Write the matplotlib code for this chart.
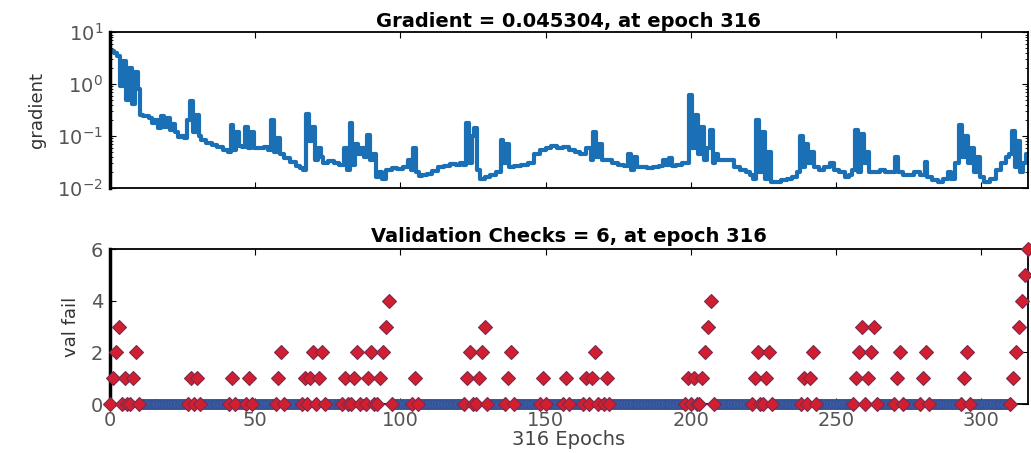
import numpy as np
import matplotlib
matplotlib.use("Agg")
import matplotlib.pyplot as plt
from matplotlib.ticker import LogLocator, NullFormatter

plt.rcParams['font.family'] = ['DejaVu Sans']

# gradient (epoch, value)
grad_epochs = [0, 1, 2, 3, 4, 5, 6, 7, 8, 9, 10, 11, 12, 13, 14, 15, 16, 17, 18, 19,
               20, 21, 22, 23, 24, 25, 26, 27, 28, 29, 30, 31, 32, 34, 36, 38, 40, 41, 42, 43,
               44, 45, 46, 47, 48, 49, 50, 52, 54, 55, 56, 57, 58, 59, 61, 63, 65, 66, 67, 68,
               69, 70, 71, 72, 73, 74, 76, 78, 80, 81, 82, 83, 84, 85, 86, 87, 88, 89, 90, 91,
               92, 93, 94, 96, 98, 100, 102, 103, 104, 105, 106, 107, 108, 110, 112, 114, 116, 118, 120, 121,
               122, 123, 124, 125, 126, 127, 128, 130, 132, 134, 135, 136, 137, 138, 140, 143, 145, 147, 149, 151,
               153, 155, 157, 159, 161, 163, 165, 166, 167, 168, 169, 170, 172, 174, 176, 178, 179, 180, 181, 182,
               184, 186, 188, 190, 191, 192, 193, 194, 196, 198, 199, 200, 201, 202, 203, 204, 205, 206, 207, 208,
               209, 210, 212, 214, 216, 218, 220, 221, 222, 223, 224, 225, 226, 227, 228, 230, 232, 234, 236, 237,
               238, 239, 240, 241, 242, 243, 245, 247, 249, 250, 252, 254, 255, 256, 257, 258, 259, 260, 261, 262,
               264, 266, 268, 270, 271, 272, 274, 276, 278, 280, 281, 282, 284, 286, 288, 289, 290, 292, 293, 294,
               295, 296, 297, 298, 299, 300, 302, 304, 306, 308, 309, 310, 311, 312, 313, 314, 315, 316]
grad_values = [4.3, 4.3, 4.0, 3.4, 0.9, 2.8, 0.5, 2.0, 0.42, 1.7, 0.8, 0.25, 0.24, 0.24, 0.22, 0.18, 0.2, 0.14, 0.24, 0.15,
               0.22, 0.13, 0.17, 0.12, 0.095, 0.1, 0.09, 0.2, 0.48, 0.12, 0.25, 0.1, 0.085, 0.075, 0.068, 0.062, 0.055, 0.05, 0.16, 0.055,
               0.12, 0.065, 0.062, 0.15, 0.06, 0.12, 0.06, 0.058, 0.062, 0.055, 0.2, 0.05, 0.09, 0.045, 0.038, 0.032, 0.026, 0.024, 0.022, 0.27,
               0.08, 0.15, 0.035, 0.06, 0.04, 0.03, 0.033, 0.03, 0.028, 0.06, 0.022, 0.18, 0.028, 0.07, 0.045, 0.06, 0.04, 0.105, 0.035, 0.045,
               0.016, 0.02, 0.015, 0.022, 0.024, 0.023, 0.025, 0.035, 0.022, 0.06, 0.02, 0.017, 0.018, 0.019, 0.021, 0.025, 0.027, 0.029, 0.028, 0.03,
               0.028, 0.18, 0.03, 0.1, 0.14, 0.022, 0.015, 0.016, 0.018, 0.02, 0.085, 0.03, 0.07, 0.025, 0.026, 0.028, 0.03, 0.045, 0.055, 0.06,
               0.065, 0.06, 0.062, 0.055, 0.05, 0.045, 0.06, 0.035, 0.12, 0.04, 0.07, 0.035, 0.034, 0.03, 0.028, 0.026, 0.045, 0.022, 0.04, 0.025,
               0.025, 0.024, 0.025, 0.026, 0.034, 0.028, 0.038, 0.026, 0.028, 0.03, 0.03, 0.62, 0.06, 0.25, 0.045, 0.15, 0.035, 0.06, 0.13, 0.03,
               0.045, 0.035, 0.035, 0.034, 0.025, 0.022, 0.02, 0.018, 0.015, 0.2, 0.02, 0.12, 0.015, 0.05, 0.013, 0.013, 0.014, 0.015, 0.016, 0.02,
               0.1, 0.025, 0.07, 0.03, 0.05, 0.025, 0.022, 0.025, 0.03, 0.022, 0.02, 0.016, 0.018, 0.022, 0.13, 0.02, 0.11, 0.03, 0.05, 0.02,
               0.02, 0.022, 0.02, 0.02, 0.04, 0.02, 0.018, 0.018, 0.02, 0.018, 0.032, 0.016, 0.014, 0.013, 0.015, 0.02, 0.015, 0.03, 0.165, 0.04,
               0.1, 0.03, 0.06, 0.02, 0.04, 0.016, 0.013, 0.015, 0.022, 0.03, 0.04, 0.045, 0.125, 0.025, 0.08, 0.02, 0.03, 0.045]

# validation failures: epochs where the count is above zero
fail_epochs = [1, 2, 3, 5, 8, 9, 28, 30, 42, 48, 58, 59, 67, 69, 70, 72, 73, 81, 84, 85,
               89, 90, 93, 94, 95, 96, 105, 123, 124, 127, 128, 129, 137, 138, 149, 157, 164, 166, 167, 171,
               199, 201, 204, 205, 206, 207, 222, 223, 226, 227, 239, 241, 242, 257, 258, 259, 261, 262, 263, 271,
               272, 280, 281, 294, 295, 311, 312, 313, 314, 315, 316]
fail_values = [1, 2, 3, 1, 1, 2, 1, 1, 1, 1, 1, 2, 1, 1, 2, 1, 2, 1, 1, 2,
               1, 2, 1, 2, 3, 4, 1, 1, 2, 1, 2, 3, 1, 2, 1, 1, 1, 1, 2, 1,
               1, 1, 1, 2, 3, 4, 1, 2, 1, 2, 1, 1, 2, 1, 2, 3, 1, 2, 3, 1,
               2, 1, 2, 1, 2, 1, 2, 3, 4, 5, 6]
n_epochs = 316

fig = plt.figure(figsize=(10.31, 4.53), dpi=100)
ax1 = fig.add_axes([0.1067, 0.585, 0.890, 0.344])
ax2 = fig.add_axes([0.1067, 0.108, 0.890, 0.342])

ax1.plot(grad_epochs, grad_values, color='#1a6fb5', lw=3.0, drawstyle='steps-mid')
ax1.set_yscale('log')
ax1.set_ylim(1e-2, 1e1)
ax1.set_xlim(0, n_epochs)
ax1.yaxis.set_minor_locator(LogLocator(base=10, subs=np.arange(2, 10)))
ax1.yaxis.set_minor_formatter(NullFormatter())
ax1.set_xticks(range(0, 301, 50))
ax1.set_xticklabels([])
ax1.set_ylabel('gradient', fontsize=13, color='#333333', labelpad=8)
ax1.set_title('Gradient = 0.045304, at epoch 316', fontsize=14, fontweight='bold', pad=4)

# zero epochs next to a failure run get a red marker, the rest blue
fail_set = set(fail_epochs)
all_epochs = np.arange(n_epochs + 1)
zero_epochs = [e for e in all_epochs if e not in fail_set]
red_zero = [e for e in zero_epochs if (e - 1) in fail_set or (e + 1) in fail_set]
blue_zero = [e for e in zero_epochs if e not in red_zero]

ax2.plot(blue_zero, [0] * len(blue_zero), 'o', ms=7, mfc='#3a5ca8', mec='#34508f',
         mew=0.8, clip_on=False, zorder=3)
ax2.plot(red_zero, [0] * len(red_zero), 'D', ms=7.5, mfc='#d21f30', mec='#7a2a50',
         mew=0.8, clip_on=False, zorder=4)
ax2.plot(fail_epochs, fail_values, 'D', ms=7.5, mfc='#d21f30', mec='#7a2a50',
         mew=0.8, clip_on=False, zorder=4)
ax2.set_xlim(0, n_epochs)
ax2.set_ylim(0, 6)
ax2.set_yticks([0, 2, 4, 6])
ax2.set_xticks(range(0, 301, 50))
ax2.set_ylabel('val fail', fontsize=13, color='#333333', labelpad=8)
ax2.set_xlabel('316 Epochs', fontsize=14, color='#444444', labelpad=0)
ax2.set_title('Validation Checks = 6, at epoch 316', fontsize=14, fontweight='bold', pad=5)

for ax in (ax1, ax2):
    ax.tick_params(which='both', direction='in', top=True, right=True,
                   labelsize=14, labelcolor='#555555', pad=5)
    ax.tick_params(which='major', length=4)
    ax.tick_params(which='minor', length=2)
    for side in ('top', 'right', 'bottom'):
        ax.spines[side].set_linewidth(1.3)
    ax.spines['left'].set_linewidth(2.5)

fig.savefig('out.png', dpi=100)
